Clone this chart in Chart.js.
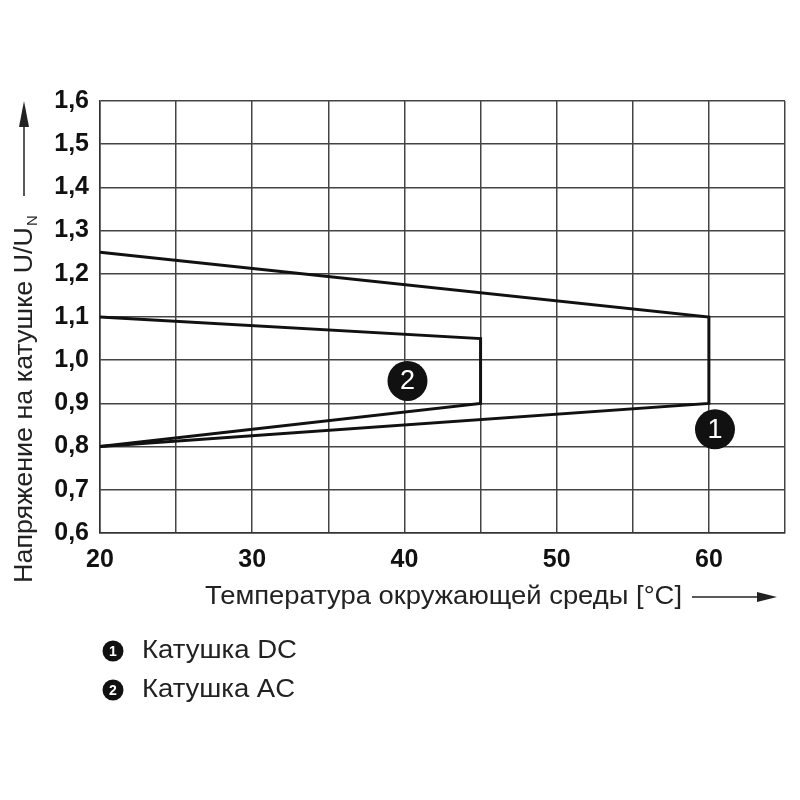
<!DOCTYPE html>
<html>
<head>
<meta charset="utf-8">
<script src="https://cdn.jsdelivr.net/npm/chart.js@4/dist/chart.umd.min.js"></script>
<style>
  html, body { margin: 0; padding: 0; background: #fff; }
  #wrap { width: 800px; height: 800px; position: relative; }
</style>
</head>
<body>
<div id="wrap"><canvas id="chart" width="800" height="800"></canvas></div>
<script>
// Curve outlines (ambient temperature, U/UN)
const dcX = [20, 60, 60, 20];
const dcY = [1.25, 1.1, 0.9, 0.8];
const acX = [20, 45, 45, 20];
const acY = [1.1, 1.05, 0.9, 0.8];

// Numbered markers placed on the plot
const markerX = [40.2, 60.4];
const markerY = [0.952, 0.84];
const markerLabels = ['2', '1'];

// Axis ranges and tick labels
const xMin = 20, xMax = 65, xStep = 5;
const xTickLabels = ['20', '30', '40', '50', '60'];
const yMin = 0.6, yMax = 1.6, yStep = 0.1;

const xTitle = 'Температура окружающей среды [°C]';
const yTitle = 'Напряжение на катушке U/U';
const yTitleSub = 'N';
const legendItems = [
    { num: '1', text: 'Катушка DC' },
    { num: '2', text: 'Катушка AC' }
];

const FONT = '"Liberation Sans", Arial, sans-serif';

function toPoints(xs, ys) {
    return xs.map((x, i) => ({ x: x, y: ys[i] }));
}

// draw text squeezed/stretched to a given width
function fitText(ctx, text, x, y, width) {
    const w = ctx.measureText(text).width;
    ctx.save();
    ctx.translate(x, y);
    ctx.scale(width / w, 1);
    ctx.fillText(text, 0, 0);
    ctx.restore();
}

const lineStyle = {
    showLine: true,
    borderColor: '#111',
    borderWidth: 3,
    pointRadius: 0,
    tension: 0,
    fill: false,
    clip: false
};

// draws numbers in marker circles, axis titles with arrows and the legend
const decorPlugin = {
    id: 'decor',
    afterDatasetsDraw(chart) {
        const ctx = chart.ctx;
        const meta = chart.getDatasetMeta(2);

        ctx.save();
        ctx.fillStyle = '#fff';
        ctx.font = '27px ' + FONT;
        ctx.textAlign = 'center';
        ctx.textBaseline = 'middle';
        meta.data.forEach((pt, i) => {
            ctx.fillText(markerLabels[i], pt.x, pt.y + 1);
        });
        ctx.restore();
    },
    afterDraw(chart) {
        const ctx = chart.ctx;
        ctx.save();
        ctx.fillStyle = '#222';
        ctx.strokeStyle = '#222';
        ctx.lineWidth = 1.5;

        // x title + arrow
        ctx.font = '26px ' + FONT;
        ctx.textBaseline = 'middle';
        ctx.textAlign = 'left';
        const xty = 597;
        fitText(ctx, xTitle, 205, xty, 477);
        ctx.beginPath();
        ctx.moveTo(692, xty);
        ctx.lineTo(762, xty);
        ctx.stroke();
        ctx.beginPath();
        ctx.moveTo(777, xty);
        ctx.lineTo(757, xty - 5);
        ctx.lineTo(757, xty + 5);
        ctx.closePath();
        ctx.fill();

        // y title rotated + arrow
        ctx.save();
        ctx.translate(25, 583);
        ctx.rotate(-Math.PI / 2);
        ctx.textAlign = 'left';
        ctx.font = '26px ' + FONT;
        fitText(ctx, yTitle, 0, 0, 356);
        ctx.font = '15px ' + FONT;
        ctx.fillText(yTitleSub, 356 + 1, 8);
        ctx.restore();
        ctx.beginPath();
        ctx.moveTo(24, 196);
        ctx.lineTo(24, 122);
        ctx.stroke();
        ctx.beginPath();
        ctx.moveTo(24, 101);
        ctx.lineTo(19, 127);
        ctx.lineTo(29, 127);
        ctx.closePath();
        ctx.fill();

        // legend
        legendItems.forEach((item, i) => {
            const cy = 651 + i * 39;
            ctx.fillStyle = '#111';
            ctx.beginPath();
            ctx.arc(113, cy, 10.5, 0, Math.PI * 2);
            ctx.fill();
            ctx.fillStyle = '#fff';
            ctx.font = 'bold 14px ' + FONT;
            ctx.textAlign = 'center';
            ctx.fillText(item.num, 113, cy + 1);
            ctx.fillStyle = '#222';
            ctx.font = '26px ' + FONT;
            ctx.textAlign = 'left';
            fitText(ctx, item.text, 142, cy, item.num === '1' ? 155 : 153);
        });
        ctx.restore();
    }
};

new Chart(document.getElementById('chart'), {
    type: 'scatter',
    data: {
        datasets: [
            Object.assign({ label: 'DC', data: toPoints(dcX, dcY) }, lineStyle),
            Object.assign({ label: 'AC', data: toPoints(acX, acY) }, lineStyle),
            {
                label: 'markers',
                data: toPoints(markerX, markerY),
                showLine: false,
                pointRadius: 20,
                pointHoverRadius: 20,
                backgroundColor: '#111',
                borderWidth: 0,
                clip: false
            }
        ]
    },
    options: {
        responsive: false,
        animation: false,
        events: [],
        layout: {
            autoPadding: false,
            padding: { left: 0, top: 101, right: 15, bottom: 227 }
        },
        plugins: {
            legend: { display: false },
            tooltip: { enabled: false }
        },
        scales: {
            x: {
                type: 'linear',
                min: xMin, max: xMax,
                afterFit: s => {
                    s.height = 40;
                    s.paddingLeft = 0;
                    s.paddingRight = 0;
                },
                afterBuildTicks: s => {
                    const t = [];
                    for (let v = xMin; v <= xMax + 1e-9; v += xStep) t.push({ value: v });
                    s.ticks = t;
                },
                grid: { color: '#444', lineWidth: 1.5, drawTicks: false },
                border: { color: '#333', width: 1.5 },
                ticks: {
                    color: '#111',
                    padding: 12,
                    autoSkip: false,
                    maxRotation: 0,
                    font: { family: FONT, size: 25, weight: 'bold' },
                    callback: v => xTickLabels.includes(String(v)) ? String(v) : ''
                }
            },
            y: {
                type: 'linear',
                min: yMin, max: yMax,
                afterFit: s => { s.width = 100; },
                afterBuildTicks: s => {
                    const t = [];
                    for (let i = 0; i <= Math.round((yMax - yMin) / yStep); i++) {
                        t.push({ value: +(yMin + i * yStep).toFixed(1) });
                    }
                    s.ticks = t;
                },
                grid: { color: '#444', lineWidth: 1.5, drawTicks: false },
                border: { color: '#333', width: 1.5 },
                ticks: {
                    color: '#111',
                    padding: 11,
                    autoSkip: false,
                    font: { family: FONT, size: 25, weight: 'bold' },
                    callback: v => v.toFixed(1).replace('.', ',')
                }
            }
        }
    },
    plugins: [decorPlugin]
});
</script>
</body>
</html>
